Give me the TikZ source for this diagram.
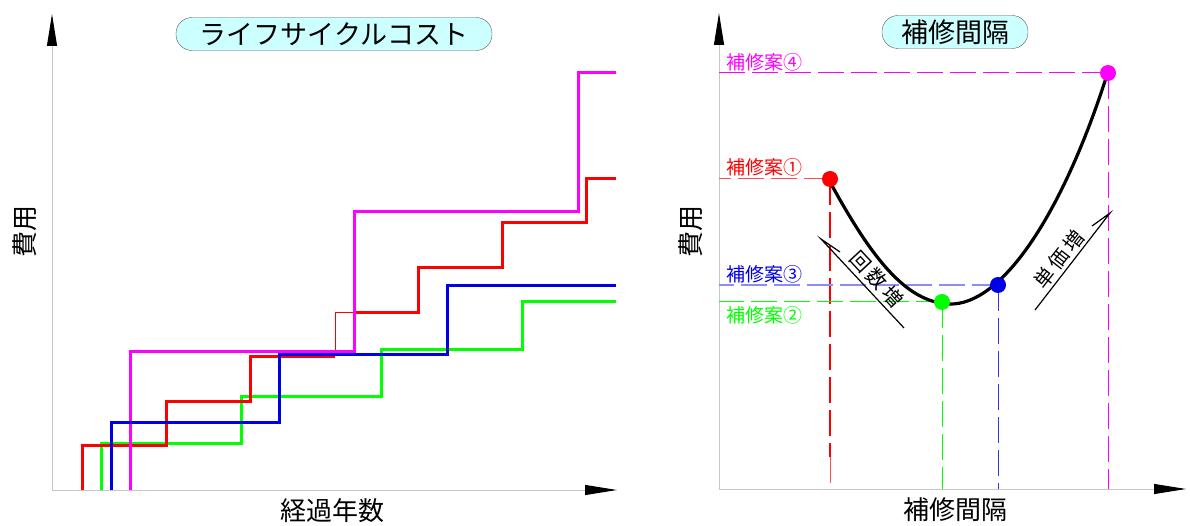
\documentclass[tikz,border=0pt]{standalone}
\usepackage{fontspec}
\setmainfont{Noto Sans CJK JP}
\usepackage{tikz}
\usetikzlibrary{arrows.meta,positioning}
\definecolor{mag}{RGB}{255,0,255}
\definecolor{grn}{RGB}{0,255,0}
\definecolor{blu}{RGB}{0,0,230}
\definecolor{ttlfill}{RGB}{204,255,255}
\tikzset{ttl/.style={draw=gray!70!black,fill=ttlfill,rounded corners=16pt,inner sep=0pt,font=\fontsize{27}{29}\selectfont},
  axlab/.style={inner sep=0pt,font=\fontsize{26}{28}\selectfont},
  plan/.style={anchor=west,inner sep=0pt,font=\fontsize{19}{21}\selectfont},
  note/.style={inner sep=0pt,font=\fontsize{20}{22}\selectfont},
  axis/.style={gray!45,line width=1pt,-{Triangle[length=32pt,width=10pt,color=black]}},
  stair/.style={line width=3pt},
  guide/.style={line width=1pt,dash pattern=on 26pt off 7pt},
  dot/.style={circle,inner sep=0pt,minimum size=16pt}}

\begin{document}
\begin{tikzpicture}[x=1pt,y=-1pt]
        \useasboundingbox (0,0) rectangle (1190,526);

        \node[ttl,minimum width=316pt,minimum height=33pt] (lcc) at (334,34) {ライフサイクルコスト};
        \node[ttl,minimum width=146pt,minimum height=33pt] (interval) at (955,32) {補修間隔};

        \coordinate (o1) at (52,490);
        \coordinate (y1) at (52,14);
        \coordinate (x1) at (617,490);
        \draw[axis] (o1) -- (y1);
        \draw[axis] (o1) -- (x1);
        \node[axlab,rotate=90] (cost1) at (25,232) {費用};
        \node[axlab] (years) at (332,511) {経過年数};

        \draw[stair,grn] (101,490) |- (241,443) |- (381,396) |- (522,349) |- (616,302);
        \draw[stair,red] (82,490) |- (166,445) |- (250,401) |- (335,356);
        \draw[red,line width=1pt] (335,356) |- (354,312);
        \draw[stair,red] (354,312) -| (418,268) -| (502,223) -| (586,179) -- (616,179);
        \draw[stair,mag] (130,490) |- (354,351) |- (578,212) |- (616,73);
        \draw[stair,blu] (111,490) |- (279,422) |- (447,354) |- (616,286);

        \coordinate (o2) at (719,489);
        \coordinate (y2) at (719,13);
        \coordinate (x2) at (1186,489);
        \draw[axis] (o2) -- (y2);
        \draw[axis] (o2) -- (x2);
        \node[axlab,rotate=90] (cost2) at (691,232) {費用};
        \node[axlab] (span) at (955,510) {補修間隔};

        \coordinate (r1) at (830,179);
        \coordinate (r2) at (942,302);
        \coordinate (r3) at (998,285);
        \coordinate (r4) at (1108,73);

        \draw[guide,red!70] (r1) -- (r1 -| o2);
        \draw[guide,red,line width=2.2pt] (r1) -- (830,457);
        \draw[guide,red!70] (830,457) -- (r1 |- o2);
        \draw[guide,grn] (r2) -- (r2 -| o2);
        \draw[guide,grn] (r2) -- (r2 |- o2);
        \draw[guide,blu!45,line width=1.6pt] (r3) -- (r3 -| o2);
        \draw[guide,blu!80] (r3) -- (r3 |- o2);
        \draw[guide,mag] (r4) -- (r4 -| o2);
        \draw[guide,mag] (r4) -- (r4 |- o2);

        \node[plan,mag] (plan4) at (726,62) {補修案④};
        \node[plan,red] (plan1) at (726,167) {補修案①};
        \node[plan,blu] (plan3) at (726,274) {補修案③};
        \node[plan,grn] (plan2) at (726,315) {補修案②};

        \draw[line width=3.2pt] (830,182) .. controls (870,255) and (905,303) .. (950,304)
            .. controls (1000,305) and (1060,220) .. (1106,78);

        \node[dot,fill=red] (p1) at (r1) {};
        \node[dot,fill=grn] (p2) at (r2) {};
        \node[dot,fill=blu] (p3) at (r3) {};
        \node[dot,fill=mag] (p4) at (r4) {};

        \coordinate (k0) at (840,252);
        \coordinate (k1) at (821,239);
        \coordinate (k2) at (904,328);
        \draw[line width=1.2pt] (k0) -- (k1) -- (k2);
        \node[note,rotate=-47] (kaisu) at (877,279) {回\hspace{3.5pt}数\hspace{3.5pt}増};

        \coordinate (t0) at (1035,310);
        \coordinate (t1) at (1110,213);
        \coordinate (t2) at (1092,226);
        \draw[line width=1.2pt] (t0) -- (t1) -- (t2);
        \node[note,rotate=52] (tanka) at (1059,259) {単\hspace{3.5pt}価\hspace{3.5pt}増};
    \end{tikzpicture}
\end{document}
